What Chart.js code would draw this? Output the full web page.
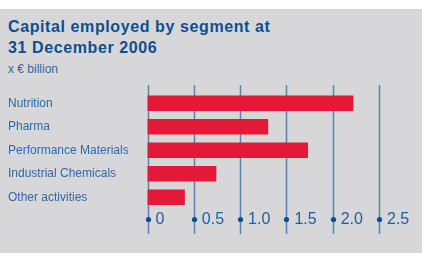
<!DOCTYPE html>
<html>
<head>
<meta charset="utf-8">
<script src="https://cdn.jsdelivr.net/npm/chart.js@4/dist/chart.umd.min.js"></script>
<style>
  html, body { margin: 0; padding: 0; background: #ffffff; }
  #wrap { position: relative; width: 422px; height: 253px; overflow: hidden; }
  #panel { position: absolute; left: 0; top: 9px; width: 422px; height: 244px; background: #d7d7d9; }
  .t { position: absolute; left: 8px; font-family: "Liberation Sans", Arial, sans-serif; white-space: nowrap; }
  #t1 { top: 16px; font-size: 16px; font-weight: bold; color: #0d4f8e; line-height: 21px; letter-spacing: 0.6px; }
  #t2 { top: 37px; font-size: 16px; font-weight: bold; color: #0d4f8e; line-height: 21px; letter-spacing: 0.6px; }
  #unit { top: 61.5px; font-size: 12px; color: #2d6aa8; line-height: 14px; }
  canvas { position: absolute; left: 0; top: 0; }
</style>
</head>
<body>
<div id="wrap">
  <div id="panel"></div>
  <div class="t" id="t1">Capital employed by segment at</div>
  <div class="t" id="t2">31 December 2006</div>
  <div class="t" id="unit">x € billion</div>
  <canvas id="grafico" width="422" height="253"></canvas>
</div>
<script>
const segmentos = ['Nutrition', 'Pharma', 'Performance Materials', 'Industrial Chemicals', 'Other activities'];
const capital = [2.22, 1.30, 1.73, 0.74, 0.40];
const valoresEje = [0, 0.5, 1.0, 1.5, 2.0, 2.5];
const etiquetasEje = ['0', '0.5', '1.0', '1.5', '2.0', '2.5'];

const azul = '#1f5fa0';

// lineas verticales, puntos y etiquetas del eje x
const ejePlugin = {
  id: 'ejePlugin',
  beforeDatasetsDraw(chart) {
    const ctx = chart.ctx;
    const x = chart.scales.x;
    ctx.save();
    ctx.strokeStyle = 'rgba(30, 95, 165, 0.7)';
    ctx.lineWidth = 1.5;
    valoresEje.forEach(v => {
      const px = Math.round(x.getPixelForValue(v)) + 0.5;
      ctx.beginPath();
      ctx.moveTo(px, 85);
      ctx.lineTo(px, 234);
      ctx.stroke();
    });
    ctx.restore();
  },
  afterDraw(chart) {
    const ctx = chart.ctx;
    const x = chart.scales.x;
    ctx.save();
    ctx.fillStyle = '#0d4f8b';
    ctx.font = '16px "Liberation Sans", Arial, sans-serif';
    ctx.textBaseline = 'middle';
    valoresEje.forEach(v => {
      const px = Math.round(x.getPixelForValue(v)) + 0.5;
      ctx.beginPath();
      ctx.arc(px, 219.5, 2.6, 0, Math.PI * 2);
      ctx.fill();
    });
    ctx.fillStyle = azul;
    ctx.textAlign = 'left';
    valoresEje.forEach((v, i) => {
      const px = x.getPixelForValue(v);
      ctx.fillText(etiquetasEje[i], px + 8, 220);
    });
    ctx.restore();
  }
};

new Chart(document.getElementById('grafico'), {
  type: 'bar',
  data: {
    labels: segmentos,
    datasets: [{
      data: capital,
      backgroundColor: '#e31937',
      borderWidth: 0,
      barThickness: 15
    }]
  },
  options: {
    indexAxis: 'y',
    responsive: false,
    animation: false,
    events: [],
    layout: { padding: { left: 8, right: 43, top: 91.5, bottom: 44 } },
    plugins: { legend: { display: false }, tooltip: { enabled: false } },
    scales: {
      x: {
        display: false,
        min: 0,
        max: 2.5
      },
      y: {
        grid: { display: false },
        border: { display: false },
        afterFit(scale) { scale.width = 139.5; },
        ticks: {
          crossAlign: 'far',
          padding: 0,
          color: '#2d6aa8',
          font: { family: '"Liberation Sans", Arial, sans-serif', size: 12 }
        }
      }
    }
  },
  plugins: [ejePlugin]
});
</script>
</body>
</html>
